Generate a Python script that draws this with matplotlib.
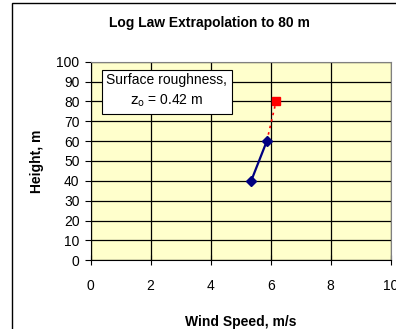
import matplotlib
matplotlib.use('Agg')
import matplotlib.pyplot as plt
from matplotlib.patches import Rectangle

plt.rcParams['font.family'] = ['Liberation Sans', 'DejaVu Sans']

# measured wind speeds (m/s) at heights (m)
speed = [5.35, 5.87]
height = [40, 60]
# log law extrapolation to 80 m
ext_speed = [5.87, 6.18]
ext_height = [60, 80]

fig = plt.figure(figsize=(3.96, 3.29), dpi=100)
ax = fig.add_axes([0.229, 0.2088, 0.7576, 0.6037])
ax.set_facecolor('#FFFFCC')

ax.plot(ext_speed, ext_height, color='red', ls=(0, (1.5, 2.5)), lw=1.2)
ax.plot(ext_speed[-1], ext_height[-1], marker='s', color='red', ms=6, ls='none')
ax.plot(speed, height, color='#000080', lw=1.6, marker='D', ms=5)

ax.set_xlim(0, 10)
ax.set_ylim(0, 100)
ax.set_xticks(range(0, 11, 2))
ax.set_yticks(range(0, 101, 10))
ax.grid(True, color='black', lw=0.9)
ax.set_axisbelow(True)
for s in ['top', 'right']:
    ax.spines[s].set_color('#808080')
for s in ['left', 'bottom']:
    ax.spines[s].set_color('black')
ax.tick_params(axis='x', direction='inout', length=7, pad=10, labelsize=10)
ax.tick_params(axis='y', direction='out', length=4, pad=4, labelsize=10)

ax.set_xlabel('Wind Speed, m/s', fontsize=10, fontweight='bold', labelpad=16)
ax.set_ylabel('Height, m', fontsize=10, fontweight='bold', labelpad=9)
fig.text(0.53, 0.93, 'Log Law Extrapolation to 80 m', ha='center', va='center',
         fontsize=10, fontweight='bold')

ax.text(0.254, 0.852, 'Surface roughness,\n$\\mathrm{z_o}$ = 0.42 m', transform=ax.transAxes,
        ha='center', va='center', fontsize=10, linespacing=1.45,
        bbox=dict(boxstyle='square,pad=0.35', fc='white', ec='black', lw=0.8))

# outer chart frame
fig.patches.append(Rectangle((12 / 396, -0.1), 1.1, 1 - 3 / 329 + 0.1,
                             transform=fig.transFigure, fill=False, ec='black', lw=1))

fig.savefig('out.png', dpi=100)
